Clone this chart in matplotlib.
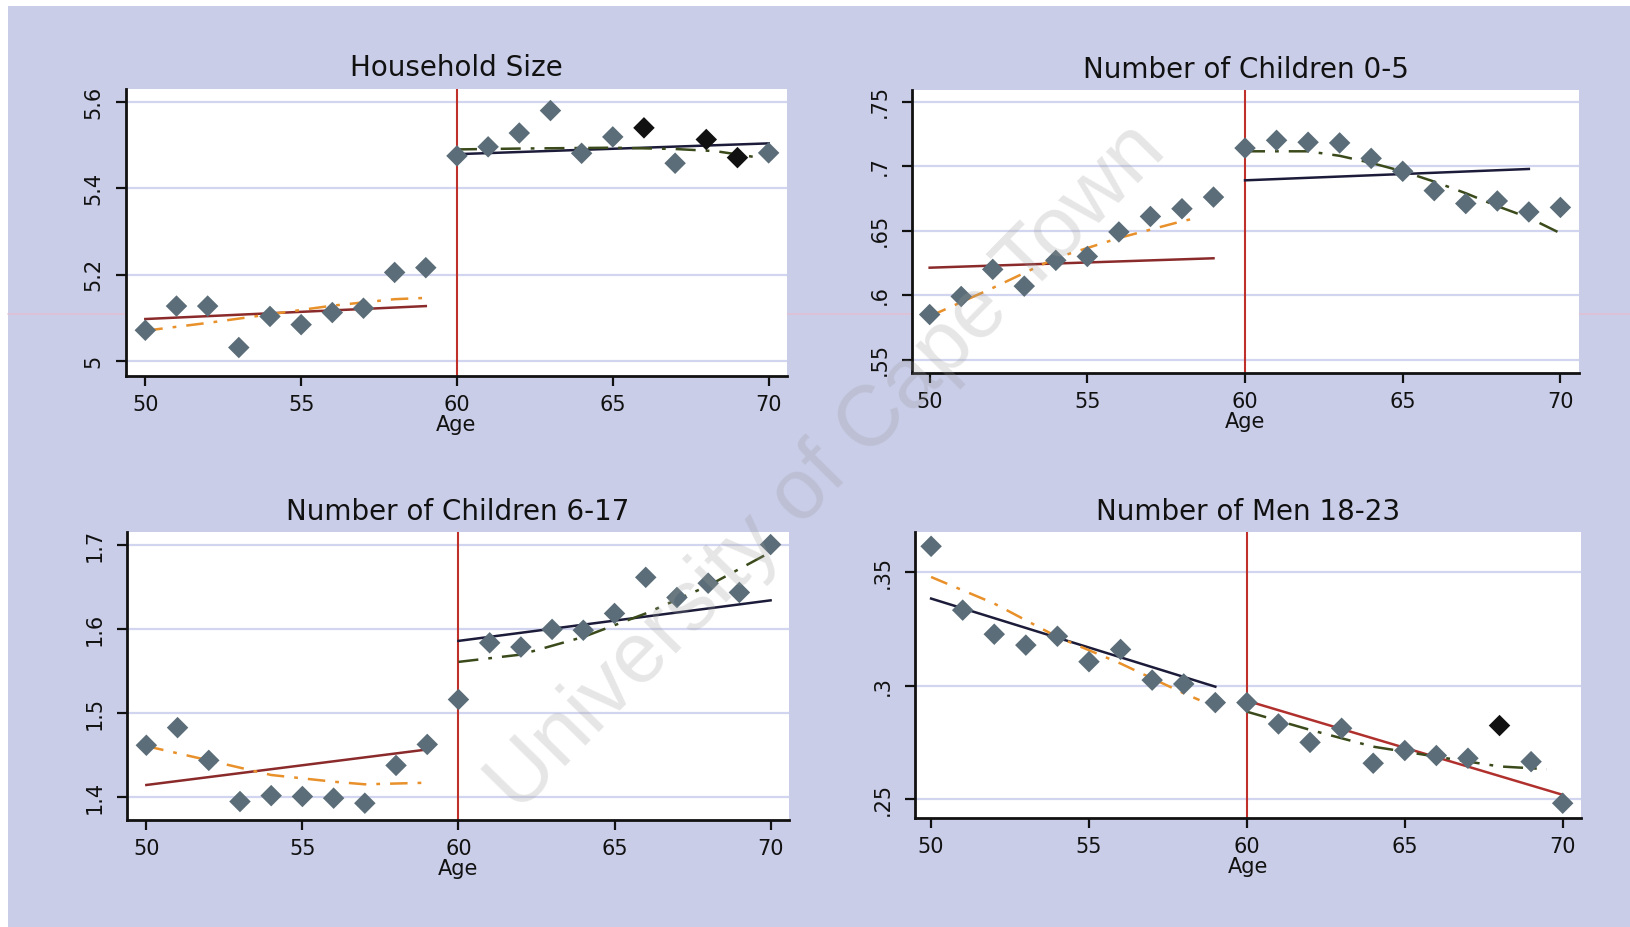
import matplotlib
matplotlib.use("Agg")
import matplotlib.pyplot as plt
from matplotlib.patches import Rectangle
from matplotlib.lines import Line2D

plt.rcParams['font.family'] = ['DejaVu Sans']

ages = list(range(50, 71))

# Panel data
hh_size = [5.071, 5.127, 5.127, 5.031, 5.103, 5.084, 5.112, 5.122, 5.205, 5.216,
           5.475, 5.496, 5.528, 5.580, 5.481, 5.519, 5.540, 5.458, 5.513, 5.471, 5.482]
kids05 = [0.585, 0.599, 0.620, 0.607, 0.627, 0.630, 0.649, 0.661, 0.667, 0.676,
          0.714, 0.720, 0.7185, 0.718, 0.706, 0.696, 0.681, 0.671, 0.673, 0.6645, 0.668]
kids617 = [1.462, 1.483, 1.444, 1.395, 1.402, 1.401, 1.399, 1.393, 1.438, 1.463,
           1.5165, 1.584, 1.579, 1.600, 1.599, 1.619, 1.662, 1.638, 1.655, 1.644, 1.701]
men1823 = [0.3613, 0.3332, 0.3226, 0.3178, 0.3217, 0.3105, 0.3159, 0.3024, 0.3007, 0.2925,
           0.2925, 0.2831, 0.2750, 0.2812, 0.2658, 0.2714, 0.2692, 0.2680, 0.2824, 0.2665, 0.2482]

# ages whose markers appear dark
hh_dark = [66, 68, 69]
kids05_dark = []
kids617_dark = []
men_dark = [68]

# fitted lines
hh_left_lin_x, hh_left_lin_y = [50, 59], [5.097, 5.127]
hh_left_quad_x, hh_left_quad_y = [50, 52, 54, 56, 58, 59], [5.070, 5.088, 5.108, 5.128, 5.143, 5.146]
hh_right_lin_x, hh_right_lin_y = [60, 70], [5.479, 5.504]
hh_right_quad_x, hh_right_quad_y = [60, 62, 65, 67, 68.3, 69.5], [5.490, 5.492, 5.494, 5.491, 5.486, 5.473]

k5_left_lin_x, k5_left_lin_y = [50, 59], [0.6213, 0.6286]
k5_left_quad_x, k5_left_quad_y = [50, 52, 54, 56, 58, 58.5], [0.5836, 0.6056, 0.6288, 0.6443, 0.6573, 0.660]
k5_right_lin_x, k5_right_lin_y = [60, 69], [0.689, 0.6978]
k5_right_quad_x, k5_right_quad_y = [60, 62, 63, 64, 65, 66, 67, 68, 69, 70], \
    [0.7115, 0.7115, 0.708, 0.7025, 0.696, 0.688, 0.679, 0.669, 0.660, 0.648]

k6_left_lin_x, k6_left_lin_y = [50, 59], [1.4147, 1.457]
k6_left_quad_x, k6_left_quad_y = [50, 52, 54, 56, 57, 59], [1.461, 1.444, 1.4266, 1.4186, 1.4155, 1.4174]
k6_right_lin_x, k6_right_lin_y = [60, 70], [1.5863, 1.6346]
k6_right_quad_x, k6_right_quad_y = [60, 62, 64, 66, 68, 70], [1.5613, 1.570, 1.591, 1.619, 1.652, 1.692]

m_left_lin_x, m_left_lin_y = [50, 59], [0.3383, 0.2995]
m_left_quad_x, m_left_quad_y = [50, 52, 54, 56, 58, 58.5], [0.3478, 0.3361, 0.3214, 0.3097, 0.2966, 0.2936]
m_right_lin_x, m_right_lin_y = [60, 70], [0.2933, 0.2519]
m_right_quad_x, m_right_quad_y = [60, 62, 64, 66, 68, 69.5], [0.2885, 0.2805, 0.2731, 0.2687, 0.2644, 0.2632]

titles = ["Household Size", "Number of Children 0-5", "Number of Children 6-17", "Number of Men 18-23"]
yticks = [[5.0, 5.2, 5.4, 5.6], [0.55, 0.6, 0.65, 0.7, 0.75], [1.4, 1.5, 1.6, 1.7], [0.25, 0.3, 0.35]]
yticklabels = [["5", "5.2", "5.4", "5.6"], [".55", ".6", ".65", ".7", ".75"],
               ["1.4", "1.5", "1.6", "1.7"], [".25", ".3", ".35"]]
xticks = [50, 55, 60, 65, 70]
cutoff = 60

W, H = 1631, 927
fig = plt.figure(figsize=(W / 100, H / 100), dpi=100)
fig.patch.set_facecolor('white')
BG = '#c9cde8'
fig.patches.append(Rectangle((8 / W, 0), 1 - 8 / W, 1 - 6 / H, transform=fig.transFigure,
                             facecolor=BG, edgecolor='none', zorder=-10))
# faint pink scan line
fig.lines.append(Line2D([8 / W, 1], [1 - 314 / H, 1 - 314 / H], transform=fig.transFigure,
                        color='#f0b8c8', lw=1.2, alpha=0.6, zorder=-5))

# panel rectangles in pixel coords: left, top, right, bottom
rects = [(126, 89, 787, 376), (912, 90, 1579, 373), (127, 532, 789, 820), (915, 532, 1581, 818)]
xlims = [(49.38, 70.59), (49.44, 70.59), (49.38, 70.59), (49.49, 70.58)]
ylims = [(4.965, 5.630), (0.5397, 0.759), (1.373, 1.716), (0.2417, 0.3676)]

MAROON = '#8b2a2a'
ORANGE = '#e8902a'
NAVY = '#1c1c3a'
GREEN = '#3a4a1a'
RED = '#b0302e'
PT = '#5b6d78'

panels = [
    (hh_size, hh_dark,
     (hh_left_lin_x, hh_left_lin_y, MAROON), (hh_left_quad_x, hh_left_quad_y),
     (hh_right_lin_x, hh_right_lin_y, NAVY), (hh_right_quad_x, hh_right_quad_y)),
    (kids05, kids05_dark,
     (k5_left_lin_x, k5_left_lin_y, MAROON), (k5_left_quad_x, k5_left_quad_y),
     (k5_right_lin_x, k5_right_lin_y, NAVY), (k5_right_quad_x, k5_right_quad_y)),
    (kids617, kids617_dark,
     (k6_left_lin_x, k6_left_lin_y, MAROON), (k6_left_quad_x, k6_left_quad_y),
     (k6_right_lin_x, k6_right_lin_y, NAVY), (k6_right_quad_x, k6_right_quad_y)),
    (men1823, men_dark,
     (m_left_lin_x, m_left_lin_y, NAVY), (m_left_quad_x, m_left_quad_y),
     (m_right_lin_x, m_right_lin_y, RED), (m_right_quad_x, m_right_quad_y)),
]

for i, (vals, dark, llin, lquad, rlin, rquad) in enumerate(panels):
    l, t, r, b = rects[i]
    ax = fig.add_axes([l / W, 1 - b / H, (r - l) / W, (b - t) / H])
    ax.set_facecolor('white')
    ax.set_xlim(*xlims[i])
    ax.set_ylim(*ylims[i])
    for s in ['top', 'right']:
        ax.spines[s].set_visible(False)
    for s in ['left', 'bottom']:
        ax.spines[s].set_color('#111111')
        ax.spines[s].set_linewidth(2.0)
    ax.set_yticks(yticks[i])
    ax.set_yticklabels(yticklabels[i], rotation=90, va='center', fontsize=15)
    ax.set_xticks(xticks)
    ax.set_xticklabels([str(v) for v in xticks], fontsize=15)
    ax.tick_params(axis='y', direction='out', length=7, width=1.6, colors='#111111', pad=9)
    ax.tick_params(axis='x', direction='out', length=7, width=1.6, colors='#111111', pad=7)
    ax.grid(axis='y', color='#d2d5ef', lw=1.6)
    ax.set_axisbelow(True)
    ax.axvline(cutoff, color='#c0302a', lw=1.5, zorder=2)

    ax.plot(llin[0], llin[1], color=llin[2], lw=1.8, zorder=3)
    ax.plot(lquad[0], lquad[1], color=ORANGE, lw=1.8, ls=(0, (7, 4, 1.5, 4)), zorder=3)
    ax.plot(rlin[0], rlin[1], color=rlin[2], lw=1.8, zorder=3)
    ax.plot(rquad[0], rquad[1], color=GREEN, lw=1.8, ls=(0, (8, 4, 1.5, 4)), zorder=3)

    cols = ['#111111' if a in dark else PT for a in ages]
    ax.scatter(ages, vals, marker='D', s=120, c=cols, edgecolors='none', zorder=4)

    ax.set_title(titles[i], fontsize=20, pad=9, color='#111111')
    ax.set_xlabel('Age', fontsize=15, labelpad=0, color='#111111')

# watermark
fig.text(827 / W, 1 - 468 / H, 'University of Cape Town', fontsize=62, rotation=45.5,
         family=['Liberation Sans', 'DejaVu Sans'],
         ha='center', va='center', color='#9a9a9a', alpha=0.25, zorder=50)

fig.savefig('out.png', dpi=100, facecolor=fig.get_facecolor())
